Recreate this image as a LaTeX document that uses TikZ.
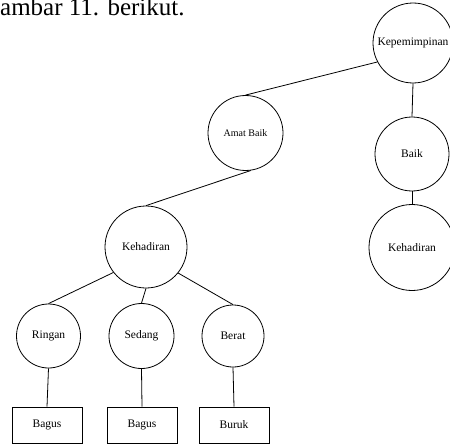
\documentclass[tikz,border=0pt]{standalone}
\usepackage{fontspec}
\setmainfont{Liberation Serif}
\begin{document}
\begin{tikzpicture}[x=1pt,y=-1pt,
  state/.style={draw,circle,inner sep=0pt,line width=0.8pt,font=\fontsize{11.5}{13}\selectfont},
  leaf/.style={draw,rectangle,minimum width=70pt,minimum height=36pt,line width=0.8pt,font=\fontsize{11.5}{13}\selectfont},
  edge/.style={line width=0.8pt}]
\useasboundingbox (0,0) rectangle (450,444);

% caption line, cut by the page
\node[anchor=base west,inner sep=0pt,font=\fontsize{25}{28}\selectfont] (cap) at (0,16) {ambar 11. berikut.};

% root and right branch
\node[state,minimum size=80pt] (kep) at (413,43) {Kepemimpinan};
\node[state,minimum size=74pt] (baik) at (412,154) {Baik};
\node[state,minimum size=86pt] (kehR) at (412,247.5) {Kehadiran};

% left branch
\node[state,minimum size=75pt,font=\fontsize{10}{12}\selectfont] (amat) at (245.5,133) {Amat Baik};
\node[state,minimum size=82pt] (kehL) at (146,247) {Kehadiran};
\node[state,minimum size=64pt] (ringan) at (48.5,336) {Ringan};
\node[state,minimum size=65pt] (sedang) at (141.5,336) {Sedang};
\node[state,minimum size=62pt] (berat) at (233,336) {Berat};

% leaves
\node[leaf] (bagusA) at (47,425) {Bagus};
\node[leaf] (bagusB) at (142,425) {Bagus};
\node[leaf] (buruk) at (234,425) {Buruk};

% edges
\draw[edge] (kep.208) -- (amat.north);
\draw[edge] (kep.south) -- (baik.north);
\draw[edge] (baik.south) -- (kehR.north);
\draw[edge] (amat.-82) -- (kehL.north);
\draw[edge] (kehL.218) -- (ringan.north);
\draw[edge] (kehL.south) -- (sedang.north);
\draw[edge] (kehL.321) -- (berat.north);
\draw[edge] (ringan.south) -- (bagusA.north);
\draw[edge] (sedang.south) -- (bagusB.north);
\draw[edge] (berat.south) -- (buruk.north);

\end{tikzpicture}
\end{document}
